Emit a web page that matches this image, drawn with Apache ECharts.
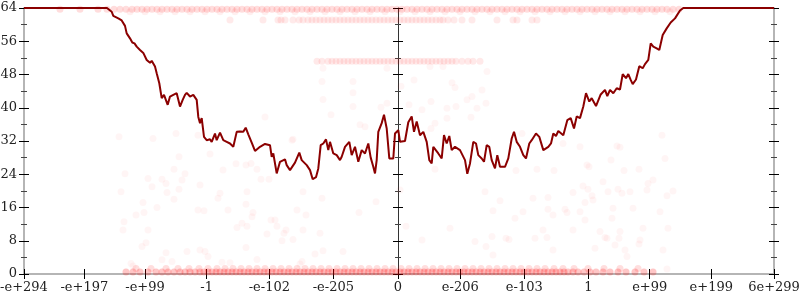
<!DOCTYPE html>
<html><head><meta charset="utf-8">
<script src="https://cdn.jsdelivr.net/npm/echarts@6/dist/echarts.min.js"></script>
<style>html,body{margin:0;padding:0;background:#fff}#c{width:800px;height:300px}</style>
</head><body><div id="c"></div>
<script>
// x positions on the (ordered-float) axis scale, and their labels
const xTickPos = [-374, -313.7, -253, -191.3, -128.7, -64.7, 0, 62.3, 126.3, 190.3, 251.7, 313.3, 376];
const xTickLabels = ['-e+294', '-e+197', '-e+99', '-1', '-e-102', '-e-205', '0', 'e-206', 'e-103', '1', 'e+99', 'e+199', '6e+299'];
const yMin = 0, yMax = 64, yStep = 8;

// dark red line
const lineX = [-374,-291,-286.3,-284.7,-279.7,-276.3,-273,-271.3,-268,-265.7,-263.5,-261.3,-258,-254.7,-251.3,-248,-246.3,-243,-241.3,-238.7,-236.3,-234,-230.3,-228,-224.7,-221.3,-218,-215.3,-213,-211.3,-208,-204.7,-201.3,-199.7,-198,-196.3,-194,-191.3,-188,-186.3,-183,-181.3,-178,-174.7,-171.3,-168,-164.7,-161.3,-158,-154.7,-152.3,-149.7,-146.3,-143,-138,-133,-128,-126.3,-124.7,-121.3,-118,-113,-111.3,-108,-103,-98.7,-96.3,-91.3,-88,-85.3,-82,-79.7,-77.3,-74.7,-72,-69.7,-68,-64.7,-61.3,-58,-56.3,-53,-48.7,-46.3,-43,-39.7,-36.3,-33,-29.7,-27.3,-24.7,-23,-21.3,-19.7,-16.3,-14,-11.3,-8.7,-4.7,-3,0.3,2,7,10.3,13.7,16,18.7,22,25.3,28.7,31.3,33.7,35.3,40.3,43.7,46,48.7,51.3,53.7,57,62,67,69.3,72,75.3,78,80.3,83.7,86,88.7,91.3,93.7,97,99.3,102,107,110.3,113.7,116,118.7,122,125.3,128,131.3,133.7,138,141.3,145.3,150.3,153,155.3,158,160.3,165.3,169.3,172.7,176,178.7,182,185.3,188,191.3,193.7,198,202.7,207,209.3,212,215.3,218.7,222,224.7,228,230.3,232.7,234.7,238,241.3,244.7,247,250.3,252.7,255.3,258.7,261.3,264.7,268.7,272.7,277,282,285.3,376];
const lineY = [64,64,63.1,62.1,61.5,61,59.7,57.9,56.7,55.7,55.5,54.7,53.9,53.2,51.5,50.8,51.3,49.9,48.3,45.9,42.3,43.1,40.7,42.7,43.1,43.5,40.3,41.9,43.1,43.6,42.7,43.1,41.9,37.8,36.3,37.5,33,32.2,32.4,31.8,33.8,32.2,34,32.2,31.8,31.4,30.6,34.2,34.3,34.2,35.2,33.6,31.6,29.6,30.6,31.3,31,28.2,29,24.2,27,27.6,26.2,25,26.8,29.2,27.4,26.2,25,22.8,23.3,25.4,31,31.4,32.4,29.8,31.8,29,28.6,27.4,28.2,30.6,31.8,28.6,30.6,27,29.8,29,31.4,28,25.8,24.2,27.4,34.2,36.3,38.3,35,27.8,27.8,33.8,34.6,31.8,32,36.5,37.9,34.2,36.7,33.4,34.2,31.8,27.4,26.6,30.6,29,27.8,33.4,31.4,33.2,29.8,30.6,29.8,27.4,24.1,26.6,31.8,31.4,28.6,27.8,27,31,30.6,27.4,25.4,28.6,25.8,25.8,27.8,32.6,34.2,31.8,30.6,28.6,27.8,31.4,32.2,33.8,33,29.8,30.6,31.4,33.8,33.2,34.4,33.4,37,37.5,35,37.9,37.5,40.3,43.5,41.5,42.3,40.4,43.2,44.3,42.8,44.3,43.5,44.7,44.4,48.1,47.1,48.1,46.7,45.7,46.8,50,49.5,50.5,51.5,55.5,54.7,54.3,53.9,57.5,59.1,60.5,61.5,63.4,64,64];

// faint red dots: dense bands (x positions, one y level each)
const bandTopLevel = 63.7;
const bandTopX = [-338,-318,-300,-291,-284,-278,-272,-266,-261,-256,-251,-246,-241,-236,-231,-226,-221,-216,-211,-206,-201,-196,-191,-186,-181,-176,-171,-166,-161,-156,-151,-146,-141,-136,-131,-126,-121,-116,-111,-106,-101,-96,-91,-86,-81,-76,-71,-66,-61,-56,-51,-46,-41,-36,-31,-26,-21,-16,-11,-6,-1,4,9,14,19,24,29,34,39,44,49,54,59,64,69,74,79,84,89,94,99,104,109,114,119,124,129,134,139,144,149,154,159,164,169,174,179,184,189,194,199,204,209,214,219,224,229,234,239,244,249,254,259,264,269,275,281];
const bandTop2Level = 63.1;
const bandTop2X = [-268,-253,-238,-223,-208,-193,-178,-163,-148,-133,-118,-103,-88,-73,-58,-43,-28,-13,2,17,32,47,62,77,92,107,122,137,152,167,182,197,212,227,242,257,272];
const band61Level = 61.1;
const band61X = [-168,-135,-120,-117,-113,-105,-99,-95,-90,-86,-82,-78,-74,-70,-66,-62,-58,-54,-50,-46,-42,-38,-34,-30,-26,-22,-18,-14,-10,-6,-2,2,6,10,14,18,22,26,30,34,38,42,45,50,56,64,74,99,115,119,134,139];
const band51Level = 51.2;
const band51X = [-81,-76,-70,-66,-62,-58,-54,-50,-46,-42,-38,-34,-30,-26,-22,-18,-14,-10,-6,-2,2,6,10,14,18,22,26,30,34,38,42,46,50,54,58,64,70,75,82];
const bandLowALevel = 0.5;
const bandLowAX = [-272,-265,-258,-250,-242,-236,-230,-224,-218,-213,-208,-203,-198,-194,-190,-186,-182,-178,-174,-170,-166,-162,-158,-154,-150,-146,-142,-138,-134,-130,-126,-122,-118,-114,-110,-106,-102,-98,-94,-90,-86,-82,-78,-74,-70,-66,-62,-58,-54,-50,-46,-42,-38,-34,-30,-26,-22,-18,-14,-10,-6,-2,2,6,10,14,18,22,26,30,34,38,42,46,50,54,58,62,66,70,74,78,82,86,90,94,98,102,106,110,114,118,122,126,130,134,138,142,146,150,154,158,162,166,170,175,180,186,192,198,205,212,220,228,237,246,255];
const bandLowBLevel = 1.3;
const bandLowBX = [-262,-247,-232,-220,-209,-199,-190,-181,-173,-165,-157,-149,-141,-133,-125,-117,-109,-101,-93,-85,-77,-69,-61,-53,-45,-37,-29,-21,-13,-5,3,11,19,27,35,43,51,59,67,75,83,91,99,107,115,123,131,139,147,156,165,176,190,206,222,240];

// scattered faint dots
const dotX = [-273,-277,-274,-275,-250,-246,-255,-254,-262,-250,-252,-256,-241,-236,-232,-231,-224,-224,-219,-216,-219,-213,-232,-236,-226,-211,-198,-200,-194,-198,-193,-190,-188,-180,-178,-175,-170,-176,-168,-162,-152,-147,-151,-152,-145,-146,-156,-151,-161,-152,-141,-137,-129,-141,-131,-127,-123,-121,-116,-114,-112,-105,-101,-92,-95,-95,-83,-75,-55,-39,-22,-96,-98,-76,-78,-267,-265,
  -133,-279,-245,-222,-200,-106,-105,-75,-76,-75,-67,-45,-45,-45,-11,-11,-17,-38,-33,
  32,45,89,16,54,57,84,74,69,33,88,11,24,49,58,79,37,49,73,33,3,264,182,219,222,165,124,
  8,2,24,37,52,77,87,95,102,94,88,95,108,111,117,118,125,135,137,139,150,150,145,149,155,156,155,167,169,175,175,182,185,187,189,191,190,194,195,187,197,202,207,205,210,213,215,214,209,217,221,220,222,224,226,227,229,232,235,241,242,241,245,255,250,262,265,267,269,275,270,249,269];
const dotY = [24.1,19.8,12.6,10.6,23,21,17.2,14.8,14.2,10.6,7.5,6.6,16,22.8,21.8,19.6,25.2,18,28.2,22.6,20.4,24.1,5.1,3.4,3,5.4,21.4,15.4,15.2,5.8,5.4,4.2,28.9,18.2,19.4,25,15.4,2.8,2.7,26.5,26.2,26.6,19.8,16.8,14.8,13.8,12.2,11.5,11.2,6.4,25.2,22.8,22.8,3.5,9.6,13,13,11.5,8,9.8,10.6,8.3,15.4,14.2,10.6,19.8,4.8,5.6,5.4,14.8,17.4,3,2.4,18.2,9.8,2.5,1.9,
  37.8,33,32.6,33.8,33.4,32.2,32.4,49.5,46.3,42,38.3,46.3,43.6,40.3,49.5,41.1,40.1,35.9,35.4,
  49.9,49.9,48.7,46.7,46,44.9,44.3,42.7,41.9,41.5,41.1,40.7,39.5,39.9,40.3,39.9,36.3,37.5,37.7,35,45.2,33.4,30.6,30.8,30.5,31.4,33.8,
  11.5,20.2,8.2,25.2,11,7.8,19.8,15.2,17.6,9,6.6,4.6,8.6,8.3,13.4,24.9,15,18.2,8.6,25.2,18.4,15.6,10.6,8.8,14.2,24.9,5.8,15.6,14.8,10.6,19.6,15,21.2,17.2,26.2,25.8,20.4,18.8,17.8,13,6.2,10.2,8.8,22.2,19.8,27.4,15.8,13.4,8.6,7,8.6,20.4,10.2,19.4,24.9,5.8,4.2,19.8,15.8,25.2,8.2,7.2,11,22.6,21.8,15,5.8,27.8,18.8,20,11,20.2,1.2];

const FONT = "'DejaVu Serif', 'Liberation Serif', serif";
const band = (xs, level) => xs.map(x => [x, level]);
const labelFor = v => {
  let best = 0;
  for (let i = 1; i < xTickPos.length; i++) if (Math.abs(xTickPos[i] - v) < Math.abs(xTickPos[best] - v)) best = i;
  return xTickLabels[best];
};

const xCommon = { type: 'value', min: xTickPos[0], max: xTickPos[xTickPos.length - 1], position: 'bottom', splitLine: { show: false } };
const yCommon = { type: 'value', min: yMin, max: yMax, interval: yStep, splitLine: { show: false } };
const tickStyle = { color: '#000', width: 1 };
const minorStyle = { color: '#444', width: 1 };

const chart = echarts.init(document.getElementById('c'), null, { renderer: 'canvas' });
chart.setOption({
  animation: false,
  backgroundColor: '#fff',
  grid: { left: 24, right: 26, top: 8, bottom: 26, containLabel: false, outerBoundsMode: 'none' },
  xAxis: [
    Object.assign({}, xCommon, {
      axisLine: { show: true, onZero: false, lineStyle: { color: '#b5b5b5', width: 2 } },
      axisTick: { show: true, inside: false, length: 5, customValues: xTickPos, lineStyle: tickStyle },
      axisLabel: { show: true, customValues: xTickPos, formatter: labelFor, fontFamily: FONT, fontSize: 13, color: '#222', margin: 7 }
    }),
    Object.assign({}, xCommon, {
      axisLine: { show: false, onZero: false },
      axisTick: { show: true, inside: true, length: 5, customValues: xTickPos, lineStyle: tickStyle },
      axisLabel: { show: false, customValues: xTickPos }
    })
  ],
  yAxis: [
    Object.assign({}, yCommon, {
      position: 'left',
      axisLine: { show: true, onZero: false, lineStyle: { color: '#b5b5b5', width: 2 } },
      axisTick: { show: true, inside: false, length: 5, lineStyle: tickStyle },
      minorTick: { show: true, splitNumber: 2, length: 3, lineStyle: minorStyle },
      axisLabel: { show: true, fontFamily: FONT, fontSize: 13, color: '#222', margin: 7 }
    }),
    Object.assign({}, yCommon, {
      position: 'left',
      axisLine: { show: false, onZero: false },
      axisTick: { show: true, inside: true, length: 5, lineStyle: tickStyle },
      minorTick: { show: true, splitNumber: 2, length: 3, lineStyle: minorStyle },
      axisLabel: { show: false }
    }),
    Object.assign({}, yCommon, {
      position: 'right',
      axisLine: { show: true, onZero: false, lineStyle: { color: '#b5b5b5', width: 2 } },
      axisTick: { show: true, inside: false, length: 5, lineStyle: tickStyle },
      minorTick: { show: true, splitNumber: 2, length: 3, lineStyle: minorStyle },
      axisLabel: { show: false }
    }),
    Object.assign({}, yCommon, {
      position: 'right',
      axisLine: { show: false, onZero: false },
      axisTick: { show: true, inside: true, length: 5, lineStyle: tickStyle },
      minorTick: { show: true, splitNumber: 2, length: 3, lineStyle: minorStyle },
      axisLabel: { show: false }
    }),
    Object.assign({}, yCommon, {
      position: 'left',
      axisLine: { show: true, onZero: true, onZeroAxisIndex: 0, lineStyle: { color: '#333', width: 1 } },
      axisTick: { show: true, inside: false, length: 5, lineStyle: tickStyle },
      minorTick: { show: true, splitNumber: 2, length: 3, lineStyle: minorStyle },
      axisLabel: { show: false }
    }),
    Object.assign({}, yCommon, {
      position: 'left',
      axisLine: { show: false, onZero: true, onZeroAxisIndex: 0 },
      axisTick: { show: true, inside: true, length: 5, lineStyle: tickStyle },
      minorTick: { show: true, splitNumber: 2, length: 3, lineStyle: minorStyle },
      axisLabel: { show: false }
    })
  ],
  series: [
    { type: 'scatter', symbolSize: 7, data: dotX.map((x, i) => [x, dotY[i]]), itemStyle: { color: 'rgba(255,0,0,0.05)' }, silent: true },
    { type: 'scatter', symbolSize: 7, data: band(bandTopX, bandTopLevel), itemStyle: { color: 'rgba(255,0,0,0.17)' }, silent: true, clip: false },
    { type: 'scatter', symbolSize: 7, data: band(bandTop2X, bandTop2Level), itemStyle: { color: 'rgba(255,0,0,0.08)' }, silent: true, clip: false },
    { type: 'scatter', symbolSize: 7, data: band(band61X, band61Level), itemStyle: { color: 'rgba(255,0,0,0.1)' }, silent: true },
    { type: 'scatter', symbolSize: 7, data: band(band51X, band51Level), itemStyle: { color: 'rgba(255,0,0,0.11)' }, silent: true },
    { type: 'scatter', symbolSize: 7, data: band(bandLowAX, bandLowALevel), itemStyle: { color: 'rgba(255,0,0,0.28)' }, silent: true, clip: false },
    { type: 'scatter', symbolSize: 7, data: band(bandLowBX, bandLowBLevel), itemStyle: { color: 'rgba(255,0,0,0.16)' }, silent: true, clip: false },
    { type: 'line', data: lineX.map((x, i) => [x, lineY[i]]), showSymbol: false, symbol: 'none', clip: false,
      lineStyle: { color: '#8b0000', width: 2 }, z: 5 }
  ]
});
</script></body></html>
